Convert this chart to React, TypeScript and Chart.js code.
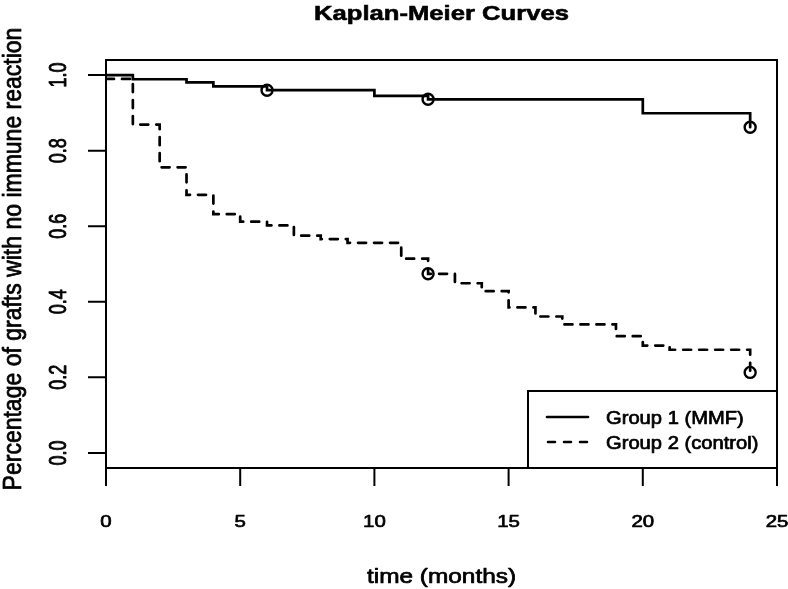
import React, { useEffect, useRef } from "react";
import { Chart, registerables } from "chart.js";

Chart.register(...registerables);

// ---- data ----
const TITLE = "Kaplan-Meier Curves";
const X_TITLE = "time (months)";
const Y_TITLE = "Percentage of grafts with no immune reaction";
const SERIES_NAMES = ["Group 1 (MMF)", "Group 2 (control)"];

const X_TICKS = [0, 5, 10, 15, 20, 25];
const Y_TICKS = [0.0, 0.2, 0.4, 0.6, 0.8, 1.0];
const Y_TICK_LABELS = ["0.0", "0.2", "0.4", "0.6", "0.8", "1.0"];

const G1_TIME = [0, 1, 3, 4, 6, 10, 12, 20, 24];
const G1_SURV = [1.0, 0.989, 0.981, 0.97, 0.96, 0.945, 0.936, 0.899, 0.862];
const G1_CENS_TIME = [6, 12, 24];
const G1_CENS_SURV = [0.96, 0.936, 0.862];

const G2_TIME = [0, 1, 2, 3, 4, 5, 6, 7, 8, 9, 11, 12, 13, 14, 15, 16, 17, 19, 20, 21, 24];
const G2_SURV = [0.99, 0.869, 0.756, 0.683, 0.632, 0.612, 0.602, 0.575, 0.566, 0.556, 0.514, 0.474, 0.449, 0.428, 0.385, 0.361, 0.34, 0.309, 0.284, 0.273, 0.213];
const G2_CENS_TIME = [12, 24];
const G2_CENS_SURV = [0.474, 0.213];

const FONT = "'Liberation Sans', Arial, Helvetica, sans-serif";

function toPts(xs: number[], ys: number[]) {
  return xs.map((x, i) => ({ x, y: ys[i] }));
}

function drawText(
  ctx: CanvasRenderingContext2D,
  s: string,
  x: number,
  y: number,
  font: string,
  sx: number,
  align: CanvasTextAlign = "center",
  baseline: CanvasTextBaseline = "alphabetic",
  rotate = false,
  weight = 0.7
) {
  ctx.save();
  ctx.translate(x, y);
  if (rotate) {
    ctx.rotate(-Math.PI / 2);
    ctx.scale(1, sx);
  } else {
    ctx.scale(sx, 1);
  }
  ctx.font = font;
  ctx.fillStyle = "#000";
  ctx.strokeStyle = "#000";
  ctx.lineWidth = weight;
  ctx.lineJoin = "round";
  ctx.setLineDash([]);
  ctx.textAlign = align;
  ctx.textBaseline = baseline;
  ctx.fillText(s, 0, 0);
  if (weight > 0) ctx.strokeText(s, 0, 0);
  ctx.restore();
}

const rStylePlugin = {
  id: "rStyle",
  afterDraw(chart: any) {
    const ctx: CanvasRenderingContext2D = chart.ctx;
    const { left, right, top, bottom } = chart.chartArea;
    const xs = chart.scales.x;
    const ys = chart.scales.y;
    ctx.save();
    ctx.strokeStyle = "#000";
    ctx.lineWidth = 2;
    ctx.setLineDash([]);
    // box
    ctx.strokeRect(left, top, right - left, bottom - top);
    // y axis ticks
    ctx.beginPath();
    Y_TICKS.forEach((v) => {
      const py = ys.getPixelForValue(v);
      ctx.moveTo(left, py);
      ctx.lineTo(left - 18, py);
    });
    // x axis ticks
    X_TICKS.forEach((v) => {
      const px = xs.getPixelForValue(v);
      ctx.moveTo(px, bottom);
      ctx.lineTo(px, bottom + 18);
    });
    ctx.stroke();

    // tick labels
    Y_TICKS.forEach((v, i) => {
      const py = ys.getPixelForValue(v);
      drawText(ctx, Y_TICK_LABELS[i], 60, py, `18px ${FONT}`, 1.3, "center", "middle", true);
    });
    X_TICKS.forEach((v) => {
      const px = xs.getPixelForValue(v);
      drawText(ctx, String(v), px, 527, `17px ${FONT}`, 1.2, "center", "alphabetic");
    });

    // titles
    const cx = (left + right) / 2;
    drawText(ctx, TITLE, cx, 20, `bold 21px ${FONT}`, 1.22, "center", "alphabetic", false, 0.6);
    drawText(ctx, X_TITLE, cx, 583, `20px ${FONT}`, 1.22, "center", "alphabetic");
    drawText(ctx, Y_TITLE, 14, 259, `23px ${FONT}`, 1.1, "center", "middle", true);

    // legend
    const lx = 528;
    const ly = 391;
    ctx.fillStyle = "#fff";
    ctx.fillRect(lx, ly, right - lx, bottom - ly);
    ctx.lineWidth = 2;
    ctx.strokeRect(lx, ly, right - lx, bottom - ly);
    ctx.lineWidth = 2.6;
    ctx.lineCap = "round";
    ctx.beginPath();
    ctx.moveTo(547, 417);
    ctx.lineTo(588, 417);
    ctx.stroke();
    ctx.setLineDash([7, 9]);
    ctx.beginPath();
    ctx.moveTo(548, 442);
    ctx.lineTo(588, 442);
    ctx.stroke();
    ctx.setLineDash([]);
    drawText(ctx, SERIES_NAMES[0], 606, 424, `18px ${FONT}`, 1.12, "left", "alphabetic");
    drawText(ctx, SERIES_NAMES[1], 606, 449, `18px ${FONT}`, 1.12, "left", "alphabetic");
    ctx.restore();
  },
};

export default function App() {
  const ref = useRef<HTMLCanvasElement | null>(null);
  useEffect(() => {
    if (!ref.current) return;
    const censorStyle = {
      showLine: false,
      pointStyle: "circle",
      pointRadius: 5.5,
      pointBorderWidth: 2.4,
      pointBorderColor: "#000",
      pointBackgroundColor: "rgba(0,0,0,0)",
      borderColor: "#000",
    };
    const chart = new Chart(ref.current, {
      type: "line",
      data: {
        datasets: [
          {
            label: SERIES_NAMES[0],
            data: toPts(G1_TIME, G1_SURV),
            stepped: true,
            borderColor: "#000",
            borderWidth: 2.7,
            pointRadius: 0,
            fill: false,
            borderCapStyle: "round",
          },
          {
            label: SERIES_NAMES[1],
            data: toPts(G2_TIME, G2_SURV),
            stepped: true,
            borderColor: "#000",
            borderWidth: 2.7,
            borderDash: [8, 8],
            borderCapStyle: "round",
            pointRadius: 0,
            fill: false,
          },
          { label: "censor 1", data: toPts(G1_CENS_TIME, G1_CENS_SURV), ...censorStyle } as any,
          { label: "censor 2", data: toPts(G2_CENS_TIME, G2_CENS_SURV), ...censorStyle } as any,
        ],
      },
      options: {
        responsive: false,
        animation: false,
        layout: { padding: { left: 106, right: 11, top: 60, bottom: 121 } },
        plugins: {
          legend: { display: false },
          title: { display: false },
          tooltip: { enabled: false },
        },
        scales: {
          x: { type: "linear", min: 0, max: 25, display: false },
          y: { type: "linear", min: -0.04, max: 1.04, display: false },
        },
      },
      plugins: [rStylePlugin],
    });
    return () => chart.destroy();
  }, []);
  return (
    <div style={{ position: "fixed", left: 0, top: 0, width: 788, height: 589, background: "#fff" }}>
      <canvas ref={ref} width={788} height={589} style={{ width: 788, height: 589 }} />
    </div>
  );
}
